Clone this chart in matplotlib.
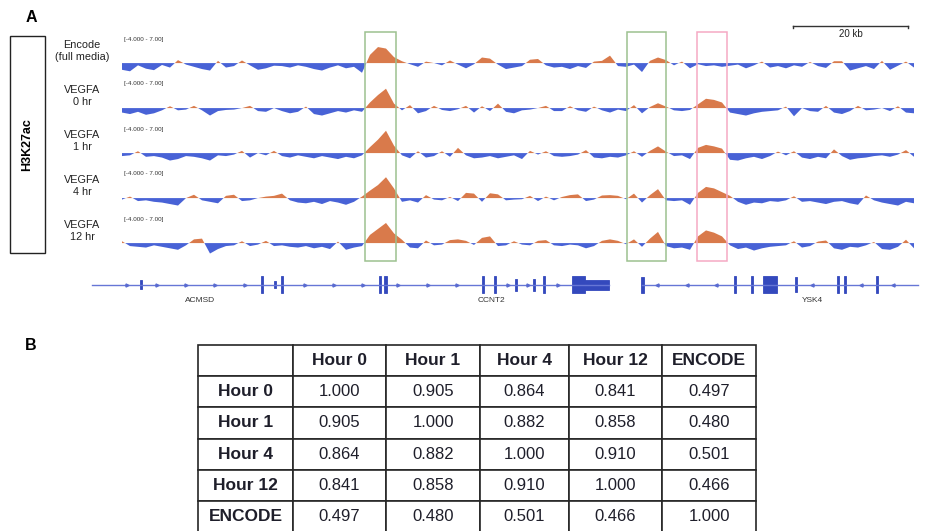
import numpy as np
import matplotlib
matplotlib.use("Agg")
import matplotlib.pyplot as plt
from matplotlib.patches import Rectangle

plt.rcParams['font.family'] = ['Liberation Sans', 'DejaVu Sans']

# ---------------- data ----------------
track_labels = ["Encode\n(full media)", "VEGFA\n0 hr", "VEGFA\n1 hr", "VEGFA\n4 hr", "VEGFA\n12 hr"]
range_label = "[-4.000 - 7.00]"
bin_kb = 20 / 115 * 8      # width of one signal bin (kb)

encode = [-1.8,-2.2,-0.6,-1.5,-1.9,-0.5,-1.2,0.8,-0.4,-1.0,
          -1.6,-2.0,0.6,-1.2,-0.8,0.7,-0.6,-1.8,-1.4,-0.7,
          -0.8,-1.2,-0.6,-1.0,-1.6,-2.0,-1.2,-0.6,-1.4,-1.0,-2.6,
          2.2,4.3,3.9,1.6,
          0.5,-0.3,-1.0,0.4,0.0,-0.6,0.7,-0.4,-1.4,-0.3,
          1.5,1.2,-0.4,-1.6,-1.2,-0.8,0.9,1.1,-0.6,-1.2,
          -1.0,-1.6,-0.8,-1.3,0.4,0.6,2.0,
          -0.8,-1.0,-0.4,-2.4,0.6,1.5,0.8,-0.6,0.4,-1.4,
          -0.3,-0.8,-0.6,-1.0,-0.7,-0.4,-1.4,-0.6,
          0.4,-1.2,-0.8,-1.4,-0.6,-1.0,0.3,-0.8,-1.3,0.5,
          0.5,-2.0,-1.4,-0.8,-1.6,0.6,-1.8,-0.7,0.4,-1.2]
vegfa_0 = [-1.2,-1.6,-1.0,-1.8,-1.4,-0.6,0.5,-0.6,-0.4,0.6,
           -0.6,-2.0,-0.8,-0.5,-0.4,0.0,0.6,-0.8,-1.0,0.0,
           -0.8,-1.4,-1.0,0.4,-1.6,-2.0,-1.4,-0.8,-1.2,-0.6,-1.0,
           1.5,3.5,5.2,1.2,
           -0.6,0.8,-1.4,-0.8,0.6,-0.5,-0.8,-0.3,0.6,-1.2,
           0.5,-0.8,1.2,-1.0,-1.4,-0.6,-0.4,0.0,0.6,-0.8,
           -0.8,0.5,-0.6,-1.0,0.4,-0.6,-1.2,-0.4,-0.8,0.8,
           -1.4,0.3,1.3,0.4,-0.6,-0.8,-0.5,
           1.0,2.5,2.2,1.5,-1.2,
           -1.6,-2.0,-1.4,-1.0,-0.8,-0.6,0.4,-2.2,0.0,-0.8,-1.0,0.6,-1.2,-1.6,-0.8,0.6,-0.6,-0.4,0.0,-0.8,0.5,-1.2,-1.4]
vegfa_1 = [-0.8,-0.6,0.5,-1.0,-0.8,-1.2,-2.0,-1.6,-0.8,-1.0,
           -1.4,-2.0,-0.6,-0.8,-0.4,0.6,-1.2,0.0,-0.6,0.6,
           -0.8,-1.2,-0.6,-1.0,-1.4,-0.8,-1.2,-1.6,-1.0,-1.4,-0.6,
           1.6,3.6,6.0,2.0,
           -0.6,-1.4,0.5,-1.2,-0.8,0.5,-1.0,1.4,-0.6,-1.4,
           -1.2,-0.8,-1.4,-1.0,-0.6,-1.6,0.6,-0.4,0.5,-0.8,
           -1.0,-0.8,-0.4,0.8,-1.2,-1.4,-1.0,-1.2,-0.6,0.5,
           -1.0,0.6,1.8,0.4,-0.8,-0.6,-1.6,
           1.4,2.2,1.8,1.2,-1.8,
           -2.0,-1.4,-1.0,-1.6,-0.8,0.4,-0.6,0.5,-1.2,-1.6,-1.0,-1.4,1.0,-0.8,-1.8,-1.4,-1.2,-0.8,-0.6,-1.0,-0.4,0.8,-1.0]
vegfa_4 = [-0.4,0.4,-0.8,-0.6,-1.0,-1.2,-1.6,-2.0,0.0,0.9,
           -0.6,-1.0,-1.4,0.6,0.9,-0.8,-0.6,0.0,0.4,0.6,
           1.2,-0.6,-1.2,-1.4,-1.0,-1.6,-0.8,-1.2,-1.8,-1.0,0.4,
           2.0,3.5,5.6,2.6,
           -1.0,-0.6,-1.2,0.8,-0.4,-0.6,0.3,-0.8,1.4,1.2,
           -1.0,1.3,1.0,-0.6,-0.4,-0.3,0.6,-0.8,0.4,-0.6,
           0.3,0.8,1.0,-0.8,-0.4,0.7,0.8,
           0.6,-0.3,1.2,-1.2,0.8,2.4,-0.6,-0.8,-0.6,-1.8,
           1.4,3.0,2.6,1.6,0.6,
           -1.0,-1.8,-1.2,-1.4,-0.8,-1.0,-0.6,0.5,-1.0,-0.8,-1.2,-1.6,-1.0,-0.8,-1.4,-1.8,0.7,-0.6,-1.2,-1.6,-2.0,-1.0,-1.4]
vegfa_12 = [0.5,-0.8,-1.0,-1.2,-0.6,-1.0,-1.4,-1.8,-0.6,1.0,
            1.2,-2.8,-1.6,-0.8,-0.6,0.5,-0.8,-0.4,0.6,-0.8,
            -0.6,-1.0,-1.2,-0.8,-1.4,-1.0,-1.6,0.4,-1.8,-1.2,-0.8,
            2.2,3.8,5.4,2.6,
            0.9,-1.2,-1.4,0.7,-0.6,-0.4,0.8,1.0,0.6,-0.5,
            1.4,1.8,-0.8,-0.6,0.5,-0.4,-0.6,0.6,0.8,-0.6,
            -0.8,-0.4,-0.6,-1.4,-0.8,0.6,
            1.0,0.6,-0.3,1.0,-1.0,1.2,3.0,-0.8,-1.4,-1.2,-1.8,
            1.8,3.4,2.8,1.8,-0.6,
            -1.6,-1.2,-2.0,-1.4,-1.0,-0.8,-0.6,0.5,-1.2,-0.8,0.4,0.7,-1.4,-1.8,-1.0,-1.2,-0.6,0.3,-1.6,-1.8,-1.0,0.9,-1.4]
tracks = [encode, vegfa_0, vegfa_1, vegfa_4, vegfa_12]

# highlighted regions (kb)
region_starts = [42.96, 88.6, 100.7]
region_ends = [48.35, 95.3, 105.9]
region_colors = ["#9cc190", "#9cc190", "#f5a9c4"]

# genes (kb)
gene_line_starts = [-4.5, 91.1]
gene_line_ends = [85.4, 139.1]
exon_starts = [3.85, 24.9, 27.2, 28.3, 45.4, 46.3, 63.3, 65.4, 69.1, 72.2, 73.9, 79.0, 81.2,
               91.0, 107.1, 110.1, 112.2, 117.8, 125.0, 126.2, 131.8]
exon_ends = [4.2, 25.3, 27.5, 28.7, 45.8, 46.7, 63.7, 65.8, 69.4, 72.5, 74.3, 81.2, 85.4,
             91.4, 107.5, 110.5, 114.6, 118.1, 125.4, 126.6, 132.2]
exon_half = [0.45, 0.85, 0.35, 0.85, 0.85, 0.85, 0.85, 0.85, 0.6, 0.6, 0.85, 0.85, 0.5,
             0.8, 0.85, 0.85, 0.85, 0.75, 0.85, 0.85, 0.85]
arrows_fwd = [1.57, 6.78, 11.83, 16.87, 22.09, 32.52, 37.57, 42.61, 48.70, 53.91, 58.96,
              67.83, 71.30, 76.52]
arrows_rev = [93.74, 98.96, 104.0, 120.7, 129.2, 134.8]
gene_names = ["ACMSD", "CCNT2", "YSK4"]
gene_label_pos = [14.26, 65.0, 120.7]

# correlation table
hours = ["Hour 0", "Hour 1", "Hour 4", "Hour 12", "ENCODE"]
corr = [[1.000, 0.905, 0.864, 0.841, 0.497],
        [0.905, 1.000, 0.882, 0.858, 0.480],
        [0.864, 0.882, 1.000, 0.910, 0.501],
        [0.841, 0.858, 0.910, 1.000, 0.466],
        [0.497, 0.480, 0.501, 0.466, 1.000]]

# ---------------- layout ----------------
W, H = 935, 531
fig = plt.figure(figsize=(W / 100, H / 100), dpi=100)
fig.patch.set_facecolor("white")
PX_PER_KB = 5.75
X0 = 118

def pax(x0, y0, x1, y1):
    ax = fig.add_axes([x0 / W, 1 - y1 / H, (x1 - x0) / W, (y1 - y0) / H])
    ax.set_axis_off()
    return ax

BLUE = "#4862d6"
ORANGE = "#d97a4b"

fig.text(31 / W, 1 - 17 / H, "A", fontsize=11.5, fontweight="bold", ha="center", va="center")
fig.text(31 / W, 1 - 345 / H, "B", fontsize=11.5, fontweight="bold", ha="center", va="center")

# H3K27ac box
bax = pax(10, 36, 45, 253)
bax.set_xlim(0, 1); bax.set_ylim(0, 1)
bax.add_patch(Rectangle((0, 0), 1, 1, fill=False, lw=1.0, ec="#222222", transform=bax.transAxes, clip_on=False))
bax.text(0.5, 0.5, "H3K27ac", rotation=90, ha="center", va="center", fontsize=9, fontweight="bold")

baselines = [63, 108, 153, 198, 243]
x_end = 800 / PX_PER_KB
for lab, vals, b in zip(track_labels, tracks, baselines):
    ax = pax(X0, b - 26, X0 + 800, b + 15)
    v = np.asarray(vals, dtype=float)
    x = (np.arange(len(v)) + 0.5) * bin_kb
    ax.fill_between(x, v, 0, where=v >= 0, interpolate=True, color=ORANGE, lw=0)
    ax.fill_between(x, v, 0, where=v <= 0, interpolate=True, color=BLUE, lw=0)
    ax.set_xlim(0, x_end)
    ax.set_ylim(-4, 7)
    fig.text(82 / W, 1 - (b - 12) / H, lab, ha="center", va="center", fontsize=7.8, linespacing=1.25, color="#222222")
    fig.text(124 / W, 1 - (b - 24) / H, range_label, ha="left", va="center", fontsize=4.5, color="#333333")

# highlight boxes + scale bar
oax = pax(X0, 15, X0 + 800, 262)
oax.set_xlim(0, x_end)
oax.set_ylim(262, 15)
for s, e, c in zip(region_starts, region_ends, region_colors):
    oax.add_patch(Rectangle((s, 32), e - s, 229, fill=False, ec=c, lw=1.1))
sb0 = (793 - X0) / PX_PER_KB
oax.plot([sb0, sb0 + 20], [25.5, 25.5], color="#333333", lw=1.0)
oax.plot([sb0, sb0], [25.5, 27.5], color="#333333", lw=1.0)
oax.plot([sb0 + 20, sb0 + 20], [25.5, 27.5], color="#333333", lw=1.0)
oax.text(sb0 + 10, 34, "20 kb", ha="center", va="center", fontsize=7, color="#222222")

# gene track
gax = pax(88, 273, 935, 297)
gax.set_xlim((88 - X0) / PX_PER_KB, (935 - X0) / PX_PER_KB)
gax.set_ylim(-1.2, 1.2)
for s, e in zip(gene_line_starts, gene_line_ends):
    gax.plot([s, e], [0, 0], color="#6676d6", lw=1.0)
for s, e, h in zip(exon_starts, exon_ends, exon_half):
    gax.add_patch(Rectangle((s, -h), e - s, 2 * h, color="#3449bd", lw=0.6))
gax.plot(arrows_fwd, [0] * len(arrows_fwd), ls="none", marker=">", ms=2.2, color="#5a6bd0")
gax.plot(arrows_rev, [0] * len(arrows_rev), ls="none", marker="<", ms=2.2, color="#5a6bd0")
for n, p in zip(gene_names, gene_label_pos):
    gax.text(p, -1.5, n, ha="center", va="center", fontsize=6, color="#333333", clip_on=False)

# table
tax = pax(198, 345, 756, 532)
cells = [[""] + hours] + [[h] + [f"{c:.3f}" for c in row] for h, row in zip(hours, corr)]
colw = np.array([95, 93, 94, 89, 93, 94], dtype=float)
tbl = tax.table(cellText=cells, cellLoc="center", bbox=[0, 0, 1, 1], colWidths=list(colw / colw.sum()))
tbl.auto_set_font_size(False)
for (r, c), cell in tbl.get_celld().items():
    cell.set_linewidth(1.2)
    cell.set_edgecolor("#262626")
    t = cell.get_text()
    t.set_color("#1e1e2a")
    if r == 0 or c == 0:
        t.set_fontweight("bold")
        t.set_fontsize(12.5)
    else:
        t.set_fontsize(12)

fig.savefig("out.png", dpi=100, facecolor="white")
